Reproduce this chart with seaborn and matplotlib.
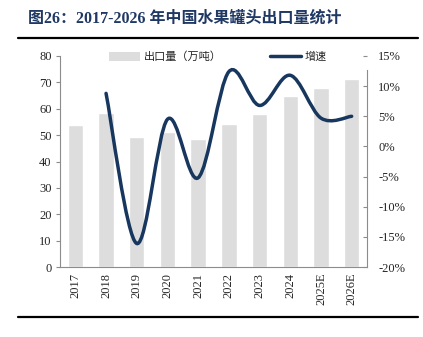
import numpy as np
import pandas as pd
import seaborn as sns
import matplotlib.pyplot as plt
from matplotlib.path import Path
from matplotlib.patches import PathPatch, Patch
from matplotlib.lines import Line2D

years = ["2017", "2018", "2019", "2020", "2021", "2022", "2023", "2024", "2025E", "2026E"]
export_volume = [53.8, 58.5, 49.1, 51.3, 48.5, 54.4, 58.0, 64.8, 67.9, 71.2]  # 万吨
growth_rate = [np.nan, 8.8, -16.1, 4.5, -5.2, 12.4, 6.8, 11.8, 4.7, 5.0]      # %

sns.set_theme(style="white")
plt.rcParams["font.family"] = ["Liberation Serif", "Noto Sans CJK SC", "DejaVu Sans"]

NAVY = "#17375E"
BAR = "#DDDDDD"
SPINE = "#8C8C8C"

fig = plt.figure(figsize=(4.23, 3.37), dpi=100)
ax = fig.add_axes([60 / 423, 1 - 267 / 337, 307 / 423, 211 / 337])

df = pd.DataFrame({"year": years, "volume": export_volume, "growth": growth_rate})
sns.barplot(data=df, x="year", y="volume", color=BAR, width=0.5, saturation=1,
            ax=ax, zorder=1)
ax.set_xlim(-0.5, len(years) - 0.5)
ax.set_ylim(0, 80)
ax.set_yticks(range(0, 81, 10))
ax.set_xlabel("")
ax.set_ylabel("")
ax.set_xticks(range(len(years)))
ax.set_xticklabels(years, rotation=90, fontsize=9)
ax.tick_params(axis="x", which="major", length=0, pad=4)
ax.set_xticks(np.arange(-0.5, len(years), 1.0), minor=True)
ax.tick_params(axis="x", which="minor", direction="in", length=3, color=SPINE, width=0.8)
ax.tick_params(axis="y", direction="out", length=3, color=SPINE, width=0.8,
               labelsize=9, pad=3, left=True)
for side in ("top", "right"):
    ax.spines[side].set_visible(False)
for side in ("left", "bottom"):
    ax.spines[side].set_color(SPINE)
    ax.spines[side].set_linewidth(0.8)

# growth rate on the secondary axis, drawn as a smoothed curve
ax2 = ax.twinx()
ax2.set_ylim(-20, 15)
ax2.set_yticks(range(-20, 16, 5))
ax2.set_yticklabels([f"{v}%" for v in range(-20, 16, 5)])
ax2.tick_params(axis="y", direction="in", length=3, color=SPINE, width=0.8,
                labelsize=9, pad=8, right=True)
ax2.grid(False)
for side in ("top", "left", "bottom"):
    ax2.spines[side].set_visible(False)
ax2.spines["right"].set_color(SPINE)
ax2.spines["right"].set_linewidth(0.8)
ax2.spines["right"].set_bounds(-20, 12.7)

pts = [(i, g) for i, g in enumerate(growth_rate) if not np.isnan(g)]
verts = [pts[0]]
codes = [Path.MOVETO]
for k in range(len(pts) - 1):
    p0 = np.array(pts[max(k - 1, 0)], float)
    p1 = np.array(pts[k], float)
    p2 = np.array(pts[k + 1], float)
    p3 = np.array(pts[min(k + 2, len(pts) - 1)], float)
    c1 = p1 + (p2 - p0) / 6.0
    c2 = p2 - (p3 - p1) / 6.0
    verts += [tuple(c1), tuple(c2), tuple(p2)]
    codes += [Path.CURVE4] * 3
ax2.add_patch(PathPatch(Path(verts, codes), facecolor="none", edgecolor=NAVY,
                        lw=2.5, capstyle="round", zorder=3))

# legend
handles = [Patch(facecolor=BAR, edgecolor="none", label="出口量（万吨）"),
           Line2D([0], [0], color=NAVY, lw=2.5, label="增速")]
leg = fig.legend(handles=handles, loc="center", bbox_to_anchor=(218 / 423, 1 - 57 / 337),
                 ncol=2, frameon=False, handlelength=2.8, handleheight=0.9,
                 handletextpad=0.35, columnspacing=4.3,
                 prop={"family": ["Noto Sans CJK SC"], "size": 8})

# title and rules
fig.text(28 / 423, 1 - 19 / 337, "图26：2017-2026 年中国水果罐头出口量统计",
         fontsize=11.5, fontweight="bold", color="#1F3864", va="center", ha="left",
         family=["Liberation Serif", "Noto Sans CJK SC"])
fig.add_artist(Line2D([18 / 423, 418 / 423], [1 - 37.5 / 337] * 2, color="black", lw=1.6))
fig.add_artist(Line2D([18 / 423, 418 / 423], [1 - 316.5 / 337] * 2, color="black", lw=1.6))

fig.savefig("out.png", dpi=100)
